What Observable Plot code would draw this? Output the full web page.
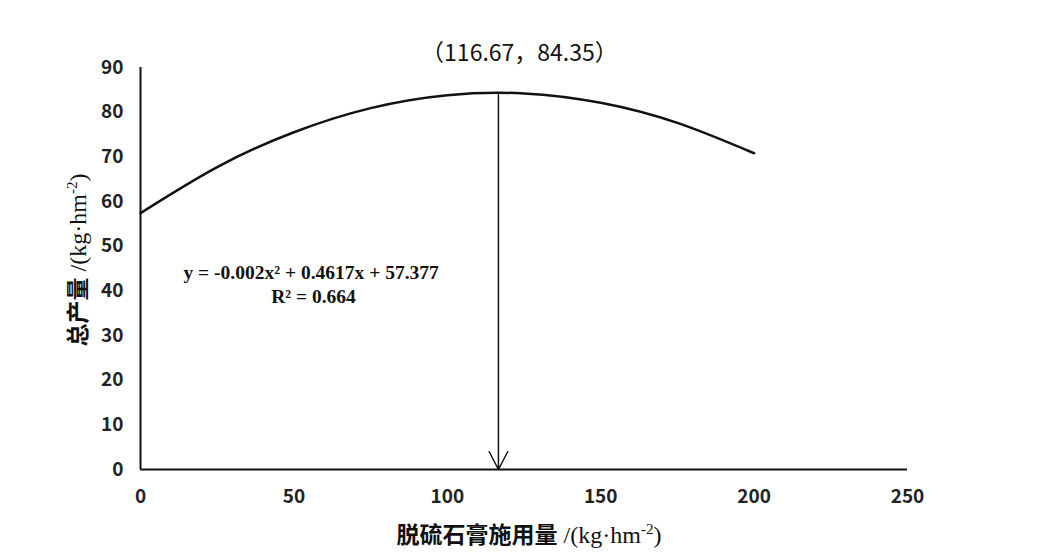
<!DOCTYPE html>
<html><head><meta charset="utf-8">
<script src="https://cdn.jsdelivr.net/npm/d3@7"></script>
<script src="https://cdn.jsdelivr.net/npm/@observablehq/plot@0.6"></script>
<style>body{margin:0;background:#fff}#chart{width:1042px;height:556px}</style>
</head><body><div id="chart"></div>
<script>
// Data
const doses  = [0, 25, 50, 75, 100, 125, 150, 175, 200];
const yields = [57.4, 67.7, 75.5, 80.9, 83.8, 84.2, 82.1, 77.6, 70.8];
const peakX = 116.67, peakY = 84.35;
const xTicks = [0, 50, 100, 150, 200, 250];
const yTicks = [0, 10, 20, 30, 40, 50, 60, 70, 80, 90];
const peakLabel = "（116.67，84.35）";
const eqLine1 = "y = -0.002x² + 0.4617x + 57.377";
const eqLine2 = "R² = 0.664";
const eqPos1 = {x: 14.0, y: 44.1};
const eqPos2 = {x: 56.4, y: 38.6};
const xTitleCn = "脱硫石膏施用量", yTitleCn = "总产量";

const curve = doses.map((d, i) => ({x: d, y: yields[i]}));
const sans = "'Noto Sans CJK SC','Noto Sans',sans-serif";
const serif = "'Liberation Serif','DejaVu Serif',serif";

const plot = Plot.plot({
  width: 1042, height: 556,
  marginLeft: 140, marginRight: 135, marginTop: 67, marginBottom: 87,
  style: {fontFamily: sans, background: "#fff", color: "#222", overflow: "visible"},
  x: {domain: [0, 250], ticks: xTicks},
  y: {domain: [0, 90], ticks: yTicks},
  marks: [
    Plot.axisX({ticks: xTicks, tickSize: 0, tickPadding: 20, fontSize: 19, fontWeight: 600, label: null}),
    Plot.axisY({ticks: yTicks, tickSize: 0, tickPadding: 17, fontSize: 19, fontWeight: 600, label: null}),
    Plot.ruleX([0], {y1: 0, y2: 90, stroke: "#111", strokeWidth: 2}),
    Plot.ruleY([0], {x1: 0, x2: 250, stroke: "#111", strokeWidth: 2}),
    Plot.line(curve, {x: "x", y: "y", curve: "natural", stroke: "#111", strokeWidth: 2.5}),
    Plot.arrow([{x: peakX, y: peakY}], {x1: "x", x2: "x", y1: "y", y2: () => 0,
      stroke: "#111", strokeWidth: 1.5, headLength: 20, headAngle: 55}),
    Plot.text([peakLabel], {x: peakX, y: peakY, dx: 21, dy: -39, fontSize: 23, fill: "#111", fontFamily: sans}),
    Plot.text([eqLine1], {x: eqPos1.x, y: eqPos1.y, textAnchor: "start", fontSize: 19.5, fontWeight: "bold", fill: "#111", fontFamily: serif}),
    Plot.text([eqLine2], {x: eqPos2.x, y: eqPos2.y, fontSize: 19.5, fontWeight: "bold", fill: "#111", fontFamily: serif})
  ]
});
document.getElementById("chart").appendChild(plot);

// Axis titles with mixed fonts and superscripts
const svg = d3.select(plot);
function title(g, cn) {
  g.append("tspan").text(cn).attr("font-family", sans).attr("font-weight", "bold");
  g.append("tspan").text(" /(kg·hm").attr("font-family", serif).attr("font-size", 24);
  g.append("tspan").text("-2").attr("font-family", serif).attr("font-size", 15).attr("dy", -9);
  g.append("tspan").text(")").attr("font-family", serif).attr("font-size", 24).attr("dy", 9);
}
const xt = svg.append("text").attr("x", 529).attr("y", 543).attr("text-anchor", "middle")
  .attr("font-size", 23).attr("fill", "#111");
title(xt, xTitleCn);
const yt = svg.append("text").attr("transform", "translate(86,260) rotate(-90)").attr("text-anchor", "middle")
  .attr("font-size", 23).attr("fill", "#111");
title(yt, yTitleCn);
</script>
</body></html>
